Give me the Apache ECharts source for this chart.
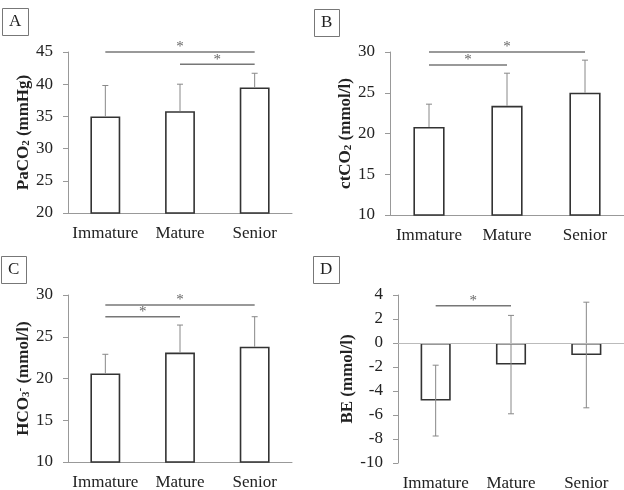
<!DOCTYPE html>
<html>
<head>
<meta charset="utf-8">
<script src="https://cdn.jsdelivr.net/npm/echarts@6/dist/echarts.min.js"></script>
<style>
  html, body { margin: 0; padding: 0; background: #fff; }
  #chart { width: 624px; height: 490px; }
</style>
</head>
<body>
<div id="chart"></div>
<script>
  // data (mean and SD per age group)
  const categories = ['Immature', 'Mature', 'Senior'];

  const paco2Mean = [35.0, 35.8, 39.5];
  const paco2Sd = [4.8, 4.2, 2.2];
  const ctco2Mean = [20.8, 23.4, 25.0];
  const ctco2Sd = [2.8, 4.0, 4.0];
  const hco3Mean = [20.6, 23.1, 23.8];
  const hco3Sd = [2.3, 3.3, 3.6];
  const beMean = [-4.8, -1.8, -1.0];
  const beSd = [2.95, 4.1, 4.4];

  // significance brackets: [from category, to category, y value]
  const sigA = [[0, 2, 45], [1, 2, 43.1]];
  const sigB = [[0, 2, 30], [0, 1, 28.4]];
  const sigC = [[0, 2, 28.8], [0, 1, 27.4]];
  const sigD = [[0, 1, 3.1]];

  const font = 'Liberation Serif, Times New Roman, serif';
  const ink = '#222';

  const grids = [
    { left: 68, top: 52, width: 224, height: 161 },
    { left: 390, top: 52, width: 234, height: 163 },
    { left: 68, top: 295, width: 224, height: 167 },
    { left: 398, top: 295, width: 226, height: 168 }
  ];

  function xAxisFor(i, showLine) {
    return {
      type: 'category',
      gridIndex: i,
      data: categories,
      axisLine: { show: showLine, onZero: false, lineStyle: { color: '#999', width: 1 } },
      axisTick: { show: false },
      axisLabel: { interval: 0, fontSize: 17, color: ink, fontFamily: font, margin: 12 }
    };
  }

  const nameRich = {
    b: { fontSize: 17, fontWeight: 'bold', fontFamily: font, color: ink },
    s: { fontSize: 11, fontWeight: 'bold', fontFamily: font, color: ink, verticalAlign: 'bottom' },
    p: { fontSize: 11, fontWeight: 'bold', fontFamily: font, color: ink, verticalAlign: 'top' }
  };

  function yAxisFor(i, min, max, interval, name, gap) {
    return {
      type: 'value',
      gridIndex: i,
      min: min, max: max, interval: interval,
      name: name,
      nameLocation: 'middle',
      nameRotate: 90,
      nameGap: gap,
      nameTextStyle: { fontSize: 17, fontWeight: 'bold', fontFamily: font, color: ink, rich: nameRich },
      axisLine: { show: true, lineStyle: { color: '#999', width: 1 } },
      axisTick: { show: true, length: 5, lineStyle: { color: '#999' } },
      splitLine: { show: false },
      axisLabel: { fontSize: 17, color: ink, fontFamily: font, margin: 15 }
    };
  }

  function barSeries(i, values, zeroLine) {
    const s = {
      type: 'bar',
      xAxisIndex: i, yAxisIndex: i,
      data: values,
      barWidth: '40%',
      itemStyle: { color: '#fff', borderColor: '#333', borderWidth: 1.6 },
      z: 2
    };
    if (zeroLine) {
      s.markLine = {
        silent: true,
        symbol: 'none',
        label: { show: false },
        lineStyle: { color: '#bbb', width: 1, type: 'solid' },
        data: [{ yAxis: 0 }]
      };
    }
    return s;
  }

  function errorSeries(i, means, sds, both) {
    return {
      type: 'custom',
      xAxisIndex: i, yAxisIndex: i,
      data: means.map((m, k) => [k, m, sds[k]]),
      z: 3,
      renderItem: function (params, api) {
        const x = api.value(0), m = api.value(1), sd = api.value(2);
        const top = api.coord([x, m + sd]);
        const bot = api.coord([x, both ? m - sd : m]);
        const style = { stroke: '#888', lineWidth: 1 };
        const kids = [
          { type: 'line', shape: { x1: top[0], y1: top[1], x2: bot[0], y2: bot[1] }, style: style },
          { type: 'line', shape: { x1: top[0] - 3, y1: top[1], x2: top[0] + 3, y2: top[1] }, style: style }
        ];
        if (both) {
          kids.push({ type: 'line', shape: { x1: bot[0] - 3, y1: bot[1], x2: bot[0] + 3, y2: bot[1] }, style: style });
        }
        return { type: 'group', children: kids };
      }
    };
  }

  function sigSeries(i, pairs) {
    return {
      type: 'custom',
      xAxisIndex: i, yAxisIndex: i,
      data: pairs,
      z: 4,
      clip: false,
      renderItem: function (params, api) {
        const a = api.coord([api.value(0), api.value(2)]);
        const b = api.coord([api.value(1), api.value(2)]);
        return {
          type: 'group',
          children: [
            { type: 'line', shape: { x1: a[0], y1: a[1], x2: b[0], y2: b[1] }, style: { stroke: '#777', lineWidth: 1.5 } },
            {
              type: 'text',
              x: (a[0] + b[0]) / 2, y: a[1] + 3,
              style: { text: '*', fontSize: 15, fontFamily: font, fill: '#666', align: 'center', verticalAlign: 'bottom' }
            }
          ]
        };
      }
    };
  }

  function panelLabel(txt, left, top) {
    return {
      text: txt,
      left: left, top: top,
      padding: [5, 7, 5, 7],
      borderColor: '#777',
      borderWidth: 1,
      textStyle: { fontSize: 17, fontWeight: 'normal', fontFamily: font, color: ink, lineHeight: 18 }
    };
  }

  const option = {
    backgroundColor: '#fff',
    animation: false,
    title: [
      panelLabel('A', 2, 8),
      panelLabel('B', 314, 9),
      panelLabel('C', 1, 256),
      panelLabel('D', 313, 256)
    ],
    grid: grids.map(g => Object.assign({ outerBoundsMode: 'none', containLabel: false }, g)),
    xAxis: [xAxisFor(0, true), xAxisFor(1, true), xAxisFor(2, true), xAxisFor(3, false)],
    yAxis: [
      yAxisFor(0, 20, 45, 5, '{b|PaCO}{s|2}{b| (mmHg)}', 31),
      yAxisFor(1, 10, 30, 5, '{b|ctCO}{s|2}{b| (mmol/l)}', 36),
      yAxisFor(2, 10, 30, 5, '{b|HCO}{s|3}{p|-}{b| (mmol/l)}', 31),
      yAxisFor(3, -10, 4, 2, '{b|BE (mmol/l)}', 40)
    ],
    series: [
      barSeries(0, paco2Mean), errorSeries(0, paco2Mean, paco2Sd, false), sigSeries(0, sigA),
      barSeries(1, ctco2Mean), errorSeries(1, ctco2Mean, ctco2Sd, false), sigSeries(1, sigB),
      barSeries(2, hco3Mean), errorSeries(2, hco3Mean, hco3Sd, false), sigSeries(2, sigC),
      barSeries(3, beMean, true), errorSeries(3, beMean, beSd, true), sigSeries(3, sigD)
    ]
  };

  const chart = echarts.init(document.getElementById('chart'), null, { renderer: 'canvas' });
  chart.setOption(option);
</script>
</body>
</html>
